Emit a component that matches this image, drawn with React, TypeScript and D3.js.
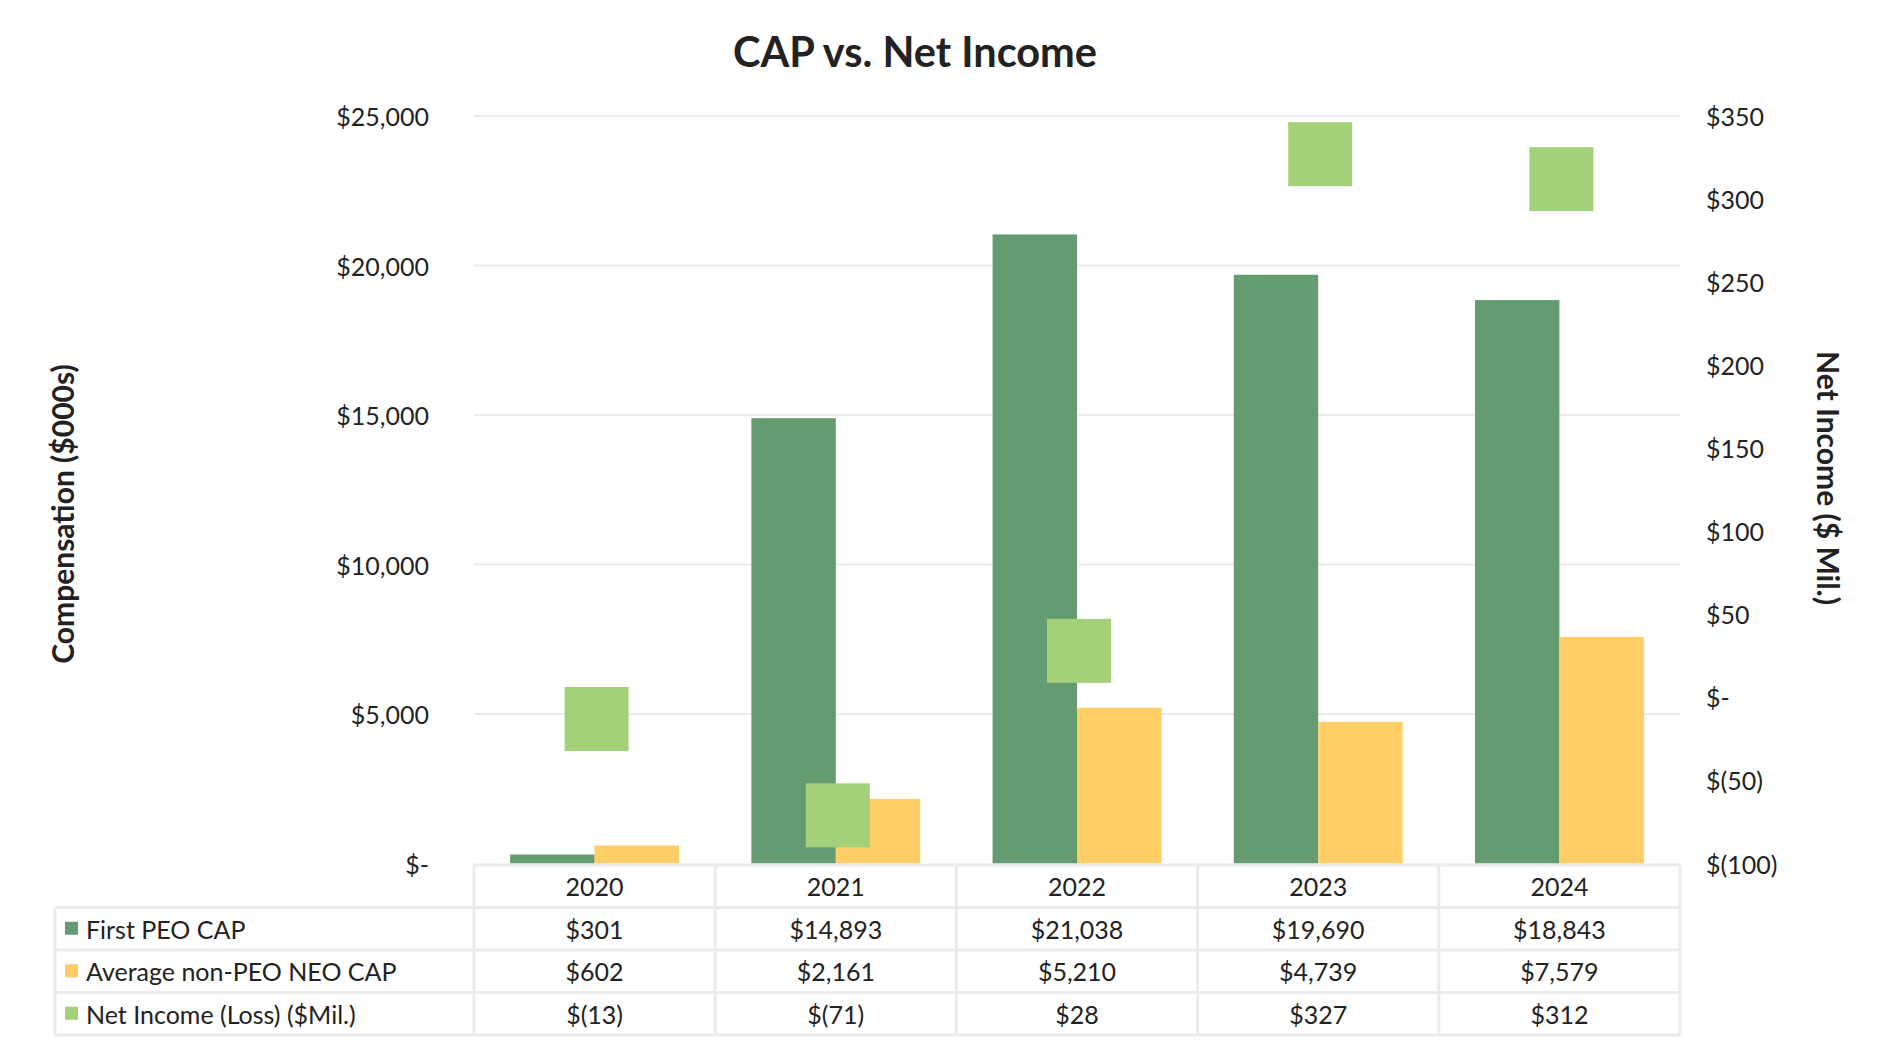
import React from "react";
import * as d3 from "d3";

const years = ["2020", "2021", "2022", "2023", "2024"];
const firstPeoCap = [301, 14893, 21038, 19690, 18843];
const avgNonPeoCap = [602, 2161, 5210, 4739, 7579];
const netIncome = [-13, -71, 28, 327, 312];
const leftTicks = [0, 5000, 10000, 15000, 20000, 25000];
const rightTicks = [-100, -50, 0, 50, 100, 150, 200, 250, 300, 350];
const seriesNames = ["First PEO CAP", "Average non-PEO NEO CAP", "Net Income (Loss) ($Mil.)"];
const seriesColors = ["#659B70", "#FFCD66", "#A5D07A"];

const W = 1891;
const H = 1053;
const plotLeft = 474;
const plotRight = 1680;
const plotTop = 116;
const plotBottom = 863.5;
const tableLeft = 55;
const rowH = 42.5;
const FONT = "Lato, 'Open Sans', sans-serif";

const fmtMoney = (v: number) => {
  if (v === 0) return "$-";
  const s = d3.format(",")(Math.abs(v));
  return v < 0 ? `$(${s})` : `$${s}`;
};

export default function App() {
  const x = d3.scaleBand<string>().domain(years).range([plotLeft, plotRight]).padding(0);
  const yL = d3.scaleLinear().domain([0, 25000]).range([plotBottom, plotTop]);
  const yR = d3.scaleLinear().domain([-100, 350]).range([plotBottom, plotTop]);
  const bw = x.bandwidth() * 0.35;
  const marker = 64;
  const gridColor = "#EBEBEB";
  const tableRows = [firstPeoCap, avgNonPeoCap, netIncome];

  return (
    <svg width={W} height={H} style={{ position: "absolute", left: 0, top: 0, background: "#fff" }} fontFamily={FONT}>
      <text x={915} y={67} textAnchor="middle" fontSize={41.5} fontWeight={700} fill="#222">
        CAP vs. Net Income
      </text>

      {/* gridlines */}
      {leftTicks.filter((t) => t > 0).map((t) => (
        <line key={t} x1={plotLeft} x2={plotRight} y1={yL(t)} y2={yL(t)} stroke={gridColor} strokeWidth={2} />
      ))}

      {/* left ticks */}
      {leftTicks.map((t) => (
        <text key={t} x={429} y={yL(t)} textAnchor="end" dominantBaseline="central" fontSize={25} fill="#222">
          {fmtMoney(t)}
        </text>
      ))}
      {/* right ticks */}
      {rightTicks.map((t) => (
        <text key={t} x={1706} y={yR(t)} textAnchor="start" dominantBaseline="central" fontSize={25} fill="#222">
          {fmtMoney(t)}
        </text>
      ))}

      {/* axis titles */}
      <text transform={`translate(62,514) rotate(-90)`} textAnchor="middle" dominantBaseline="central" fontSize={30} fontWeight={700} fill="#222">
        Compensation ($000s)
      </text>
      <text transform={`translate(1829,478) rotate(90)`} textAnchor="middle" dominantBaseline="central" fontSize={30} fontWeight={700} fill="#222">
        Net Income ($ Mil.)
      </text>

      {/* bars */}
      {years.map((yr, i) => {
        const c = (x(yr) as number) + x.bandwidth() / 2;
        return (
          <g key={yr}>
            <rect x={c - bw} y={yL(firstPeoCap[i])} width={bw} height={plotBottom - yL(firstPeoCap[i])} fill={seriesColors[0]} />
            <rect x={c} y={yL(avgNonPeoCap[i])} width={bw} height={plotBottom - yL(avgNonPeoCap[i])} fill={seriesColors[1]} />
          </g>
        );
      })}
      {/* markers */}
      {years.map((yr, i) => {
        const c = (x(yr) as number) + x.bandwidth() / 2;
        return (
          <rect key={yr} x={c - marker / 2 + 2} y={yR(netIncome[i]) - marker / 2} width={marker} height={marker} fill={seriesColors[2]} />
        );
      })}

      {/* data table */}
      <g>
        <line x1={plotLeft} x2={plotRight} y1={plotBottom + 1.5} y2={plotBottom + 1.5} stroke={gridColor} strokeWidth={3} />
        {[1, 2, 3, 4].map((r) => (
          <line key={r} x1={tableLeft} x2={plotRight} y1={plotBottom + 1.5 + r * rowH} y2={plotBottom + 1.5 + r * rowH} stroke={gridColor} strokeWidth={3} />
        ))}
        <line x1={tableLeft} x2={tableLeft} y1={plotBottom + 1.5 + rowH} y2={plotBottom + 1.5 + 4 * rowH} stroke={gridColor} strokeWidth={3} />
        {[...years.map((yr) => x(yr) as number), plotRight].map((vx, i) => (
          <line key={i} x1={vx} x2={vx} y1={plotBottom + 1.5} y2={plotBottom + 1.5 + 4 * rowH} stroke={gridColor} strokeWidth={3} />
        ))}
        {years.map((yr) => (
          <text key={yr} x={(x(yr) as number) + x.bandwidth() / 2} y={plotBottom + 1.5 + rowH / 2} textAnchor="middle" dominantBaseline="central" fontSize={25} fill="#222">
            {yr}
          </text>
        ))}
        {tableRows.map((row, r) => {
          const cy = plotBottom + 1.5 + (r + 1) * rowH + rowH / 2;
          return (
            <g key={r}>
              <rect x={65} y={cy - 7} width={13} height={13} fill={seriesColors[r]} />
              <text x={86} y={cy} dominantBaseline="central" fontSize={25} fill="#222">
                {seriesNames[r]}
              </text>
              {row.map((v, i) => (
                <text key={i} x={(x(years[i]) as number) + x.bandwidth() / 2} y={cy} textAnchor="middle" dominantBaseline="central" fontSize={25} fill="#222">
                  {fmtMoney(v)}
                </text>
              ))}
            </g>
          );
        })}
      </g>
    </svg>
  );
}
